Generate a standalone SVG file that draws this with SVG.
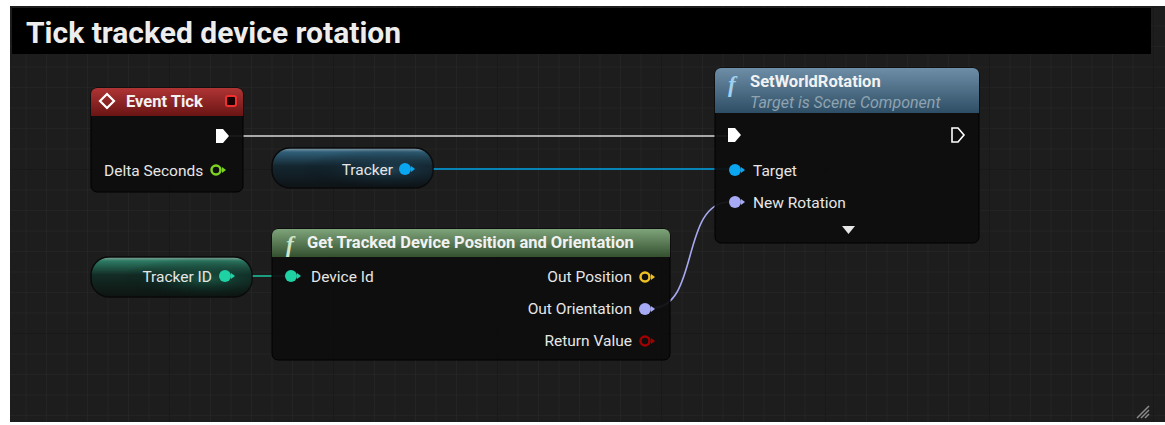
<svg xmlns="http://www.w3.org/2000/svg" width="1165" height="425" viewBox="0 0 1165 425">
<style>
.t{font-family:Roboto,"Liberation Sans",sans-serif;fill:#e6e6e6;font-size:15.5px}
.h{font-family:Roboto,"Liberation Sans",sans-serif;fill:#f2f2f2;font-size:16.5px;font-weight:bold}
.sub{font-family:Roboto,"Liberation Sans",sans-serif;fill:#8fa3b0;font-size:16px;font-style:italic}
.fn{font-family:"Liberation Serif",serif;font-style:italic;font-weight:bold;font-size:23px}
.body{fill:#0d0d0d;fill-opacity:0.93;stroke:#000;stroke-width:1}
.wire{fill:none;stroke-width:1.6}
</style>
<defs>
<pattern id="minor" width="20.5" height="20.5" patternUnits="userSpaceOnUse" x="6" y="6">
<path d="M20.5 0V20.5M0 20.5H20.5" fill="none" stroke="#2a2a2a" stroke-width="1"/>
</pattern>
<pattern id="major" width="164" height="164" patternUnits="userSpaceOnUse" x="6" y="6">
<path d="M164 0V164M0 164H164" fill="none" stroke="#151515" stroke-width="1.5"/>
</pattern>
<linearGradient id="gRed" x1="0" y1="0" x2="0" y2="1">
<stop offset="0" stop-color="#b03434"/><stop offset="1" stop-color="#6a1414"/>
</linearGradient>
<linearGradient id="gGreen" x1="0" y1="0" x2="0" y2="1">
<stop offset="0" stop-color="#7ea37a"/><stop offset="1" stop-color="#34502f"/>
</linearGradient>
<linearGradient id="gBlue" x1="0" y1="0" x2="0" y2="1">
<stop offset="0" stop-color="#6d8ea6"/><stop offset="1" stop-color="#2e4e66"/>
</linearGradient>
<linearGradient id="pillBlue" x1="0" y1="0" x2="0" y2="1">
<stop offset="0" stop-color="#8aa0ad"/><stop offset="0.1" stop-color="#2f5f78"/><stop offset="0.45" stop-color="#142630"/><stop offset="1" stop-color="#0e1316"/>
</linearGradient>
<linearGradient id="pillTeal" x1="0" y1="0" x2="0" y2="1">
<stop offset="0" stop-color="#8aab9f"/><stop offset="0.1" stop-color="#2c7a63"/><stop offset="0.45" stop-color="#132c25"/><stop offset="1" stop-color="#0e1412"/>
</linearGradient>
<radialGradient id="pillShadeBlue" cx="0.72" cy="0.55" r="0.55">
<stop offset="0" stop-color="#2a5a76" stop-opacity="0.55"/><stop offset="1" stop-color="#000" stop-opacity="0"/>
</radialGradient>
<radialGradient id="pillShadeTeal" cx="0.72" cy="0.55" r="0.55">
<stop offset="0" stop-color="#1f7a60" stop-opacity="0.55"/><stop offset="1" stop-color="#000" stop-opacity="0"/>
</radialGradient>
</defs>

<rect x="0" y="0" width="1165" height="425" fill="#ffffff"/>
<rect x="10" y="6" width="1155" height="416" fill="#1d1d1d"/>
<rect x="10" y="6" width="1155" height="416" fill="url(#minor)"/>
<rect x="10" y="6" width="1155" height="416" fill="url(#major)"/>

<g id="comment">
<rect x="12" y="8" width="1139" height="46" fill="#000"/>
<text x="26" y="43" font-family="Roboto,'Liberation Sans',sans-serif" font-size="30" font-weight="bold" fill="#ededed">Tick tracked device rotation</text>
<path d="M1137 418L1149 406M1141 418L1149 410M1145 418L1149 414" stroke="#8a8a8a" stroke-width="1.5"/>
</g>

<g id="connectors">
<path class="wire" d="M230 136H727" stroke="#d8d8d8"/>
<path class="wire" d="M413 169H730" stroke="#00a6ea"/>
<path class="wire" d="M232 276H286" stroke="#1ec8a0"/>
<path class="wire" d="M652 308C700 308 680 202 730 202" stroke="#a6a9f0"/>
</g>

<g id="event-tick">
<rect x="91" y="88" width="152" height="104" rx="6" class="body"/>
<path d="M97 88H237A6 6 0 0 1 243 94V116H91V94A6 6 0 0 1 97 88Z" fill="url(#gRed)"/>
<path d="M107 94L114 101L107 108L100 101Z" fill="none" stroke="#fff" stroke-width="2.2"/>
<text x="126" y="107" class="h">Event Tick</text>
<rect x="226" y="96" width="10" height="10" rx="2" fill="#1a0000" stroke="#f03030" stroke-width="2"/>
<path d="M216 129H223L229 136L223 143H216Z" fill="#fff"/>
<text x="104" y="176" class="t">Delta Seconds</text>
<circle cx="216" cy="170" r="4.5" fill="none" stroke="#7ed321" stroke-width="2.5"/>
<path d="M222 167L226 170L222 173Z" fill="#7ed321"/>
</g>

<g id="tracker">
<rect x="272" y="148" width="161" height="40" rx="18" fill="url(#pillBlue)" stroke="#0a0a0a" stroke-width="1.5"/>
<rect x="272" y="148" width="161" height="40" rx="18" fill="url(#pillShadeBlue)"/>
<text x="393" y="175" class="t" text-anchor="end">Tracker</text>
<circle cx="405" cy="169" r="6" fill="#0aa6f0"/>
<path d="M411 166L415 169L411 172Z" fill="#0aa6f0"/>
</g>

<g id="tracker-id">
<rect x="91" y="257" width="161" height="40" rx="18" fill="url(#pillTeal)" stroke="#0a0a0a" stroke-width="1.5"/>
<rect x="91" y="257" width="161" height="40" rx="18" fill="url(#pillShadeTeal)"/>
<text x="212" y="282" class="t" text-anchor="end">Tracker ID</text>
<circle cx="225" cy="276" r="6" fill="#1ed2a4"/>
<path d="M231 273L235 276L231 279Z" fill="#1ed2a4"/>
</g>

<g id="get-tracked-device">
<rect x="272" y="229" width="398" height="131" rx="6" class="body"/>
<path d="M278 229H664A6 6 0 0 1 670 235V257H272V235A6 6 0 0 1 278 229Z" fill="url(#gGreen)"/>
<text x="286" y="252" class="fn" fill="#cfe6c8">f</text>
<text x="307" y="248" class="h">Get Tracked Device Position and Orientation</text>
<circle cx="291" cy="276" r="6" fill="#1ed2a4"/>
<path d="M297 273L301 276L297 279Z" fill="#1ed2a4"/>
<text x="311" y="282" class="t">Device Id</text>
<text x="632" y="282" class="t" text-anchor="end">Out Position</text>
<circle cx="645" cy="277" r="4.5" fill="none" stroke="#f0c020" stroke-width="2.5"/>
<path d="M651 274L655 277L651 280Z" fill="#f0c020"/>
<text x="632" y="314" class="t" text-anchor="end">Out Orientation</text>
<circle cx="645" cy="309" r="6" fill="#a6a9f4"/>
<path d="M651 306L655 309L651 312Z" fill="#a6a9f4"/>
<text x="632" y="346" class="t" text-anchor="end">Return Value</text>
<circle cx="645" cy="341" r="4.5" fill="none" stroke="#a00000" stroke-width="2.5"/>
<path d="M651 338L655 341L651 344Z" fill="#a00000"/>
</g>

<g id="set-world-rotation">
<rect x="715" y="68" width="264" height="175" rx="6" class="body"/>
<path d="M721 68H973A6 6 0 0 1 979 74V113H715V74A6 6 0 0 1 721 68Z" fill="url(#gBlue)"/>
<text x="728" y="92" class="fn" fill="#9fd0f0">f</text>
<text x="750" y="87" class="h">SetWorldRotation</text>
<text x="750" y="108" class="sub">Target is Scene Component</text>
<path d="M728 128H735L741 135L735 142H728Z" fill="#fff"/>
<path d="M952 128H958L964 135L958 142H952Z" fill="none" stroke="#fff" stroke-width="1.6"/>
<circle cx="735" cy="170" r="6" fill="#0aa6f0"/>
<path d="M741 167L745 170L741 173Z" fill="#0aa6f0"/>
<text x="753" y="176" class="t">Target</text>
<circle cx="735" cy="202" r="6" fill="#a6a9f4"/>
<path d="M741 199L745 202L741 205Z" fill="#a6a9f4"/>
<text x="753" y="208" class="t">New Rotation</text>
<path d="M842 226H855L848.5 234Z" fill="#e6e6e6"/>
</g>
</svg>
